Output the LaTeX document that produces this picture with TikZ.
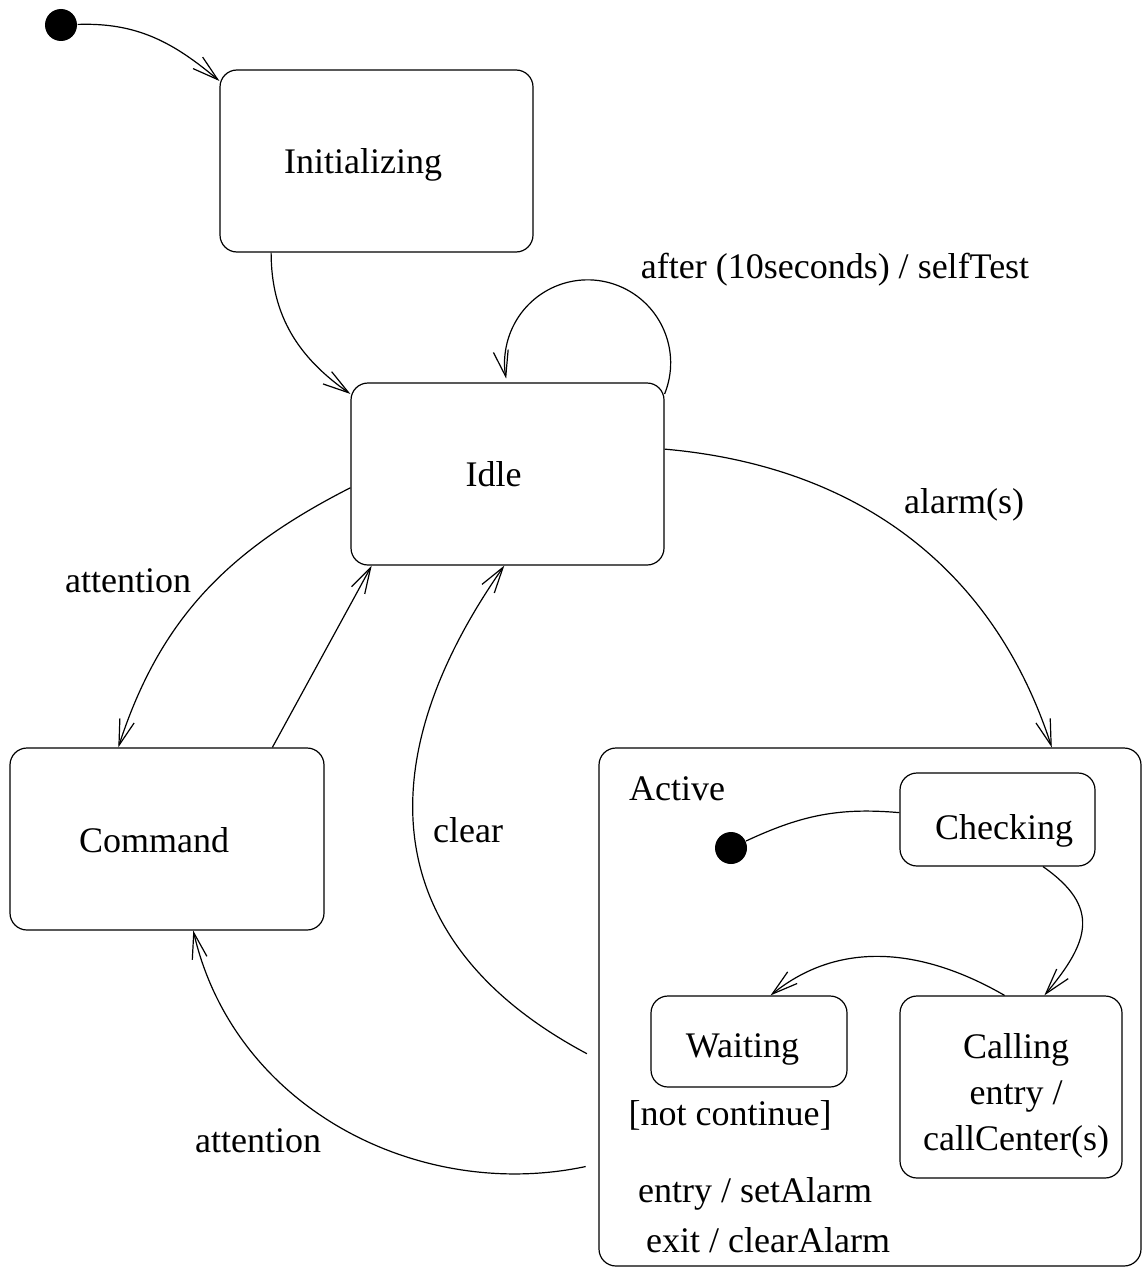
\documentclass[tikz,border=0pt]{standalone}
\usepackage{fontspec}
\setmainfont{Liberation Serif}
\usetikzlibrary{arrows.meta}

\begin{document}
\begin{tikzpicture}[x=0.5pt,y=0.5pt,line width=0.6pt,
        font=\fontsize{18pt}{23pt}\selectfont,
        statebox/.style={draw,rounded corners=8.5pt,inner sep=0pt},
        pseudo/.style={circle,fill,inner sep=0pt,minimum size=16pt},
        trans/.style={-{Straight Barb[length=13pt,width=7.5pt]}}]
                \useasboundingbox(0,0)rectangle(1143,-1268);
                \node[pseudo](start)at(61,-25){};
                \node[statebox,minimum width=156.5pt,minimum height=91pt](init)at(376.5,-161){};
                \node[statebox,minimum width=156.5pt,minimum height=91pt](idle)at(507.5,-474){};
                \node[statebox,minimum width=157pt,minimum height=91pt](command)at(167,-839){};
                \node[statebox,minimum width=271pt,minimum height=259pt](active)at(870,-1007){};
                \node[statebox,minimum width=97.5pt,minimum height=46.5pt](checking)at(997.5,-819.5){};
                \node[statebox,minimum width=98pt,minimum height=45.5pt](waiting)at(749,-1041.5){};
                \node[statebox,minimum width=111pt,minimum height=91pt](calling)at(1011,-1087){};
                \node[pseudo](dot)at(731,-848){};
                \node(initl)at(363,-165){Initializing};
                \node(idlel)at(493.5,-474.5){Idle};
                \node(commandl)at(154,-840.5){Command};
                \node(checkingl)at(1004,-831){Checking};
                \node(waitingl)at(742.5,-1049){Waiting};
                \node[align=center](callingl)at(1016,-1096){Calling\\entry /\\callCenter(s)};
                \node(activel)at(677,-789){Active};
                \node(guard)at(730,-1115){[not continue]};
                \node(entryl)at(755,-1194){entry / setAlarm};
                \node(exitl)at(768,-1240){exit / clearAlarm};
                \node(selftest)at(835,-270){after (10seconds) / selfTest};
                \node(alarml)at(964,-505){alarm(s)};
                \node(attnup)at(128,-581){attention};
                \node(clearl)at(468,-830){clear};
                \node(attnlow)at(258,-1141){attention};
                \draw[trans](start)to[out=2,in=140](init.153);
                \draw[trans](init.221)to[out=-90,in=145](idle.153);
                \draw[trans](idle.27)arc[start angle=-22,end angle=191,radius=83];
                \draw[trans](idle.9)to[out=-5,in=108](active.55);
                \draw[trans](idle.185)to[out=207,in=72](command.118);
                \draw[trans](command.41)--(idle.214);
                \draw[trans,shorten <=6.5pt](active.191)to[out=152,in=235,looseness=1.25](idle.268);
                \draw[trans,shorten <=6.5pt](active.210)to[out=192,in=283](command.286);
                \draw(dot)to[out=25,in=175](checking.176);
                \draw[trans](checking.314)to[out=-35,in=50,looseness=1.4](calling.70);
                \draw[trans](calling.94)to[out=150,in=39](waiting.65);
            \end{tikzpicture}
\end{document}
